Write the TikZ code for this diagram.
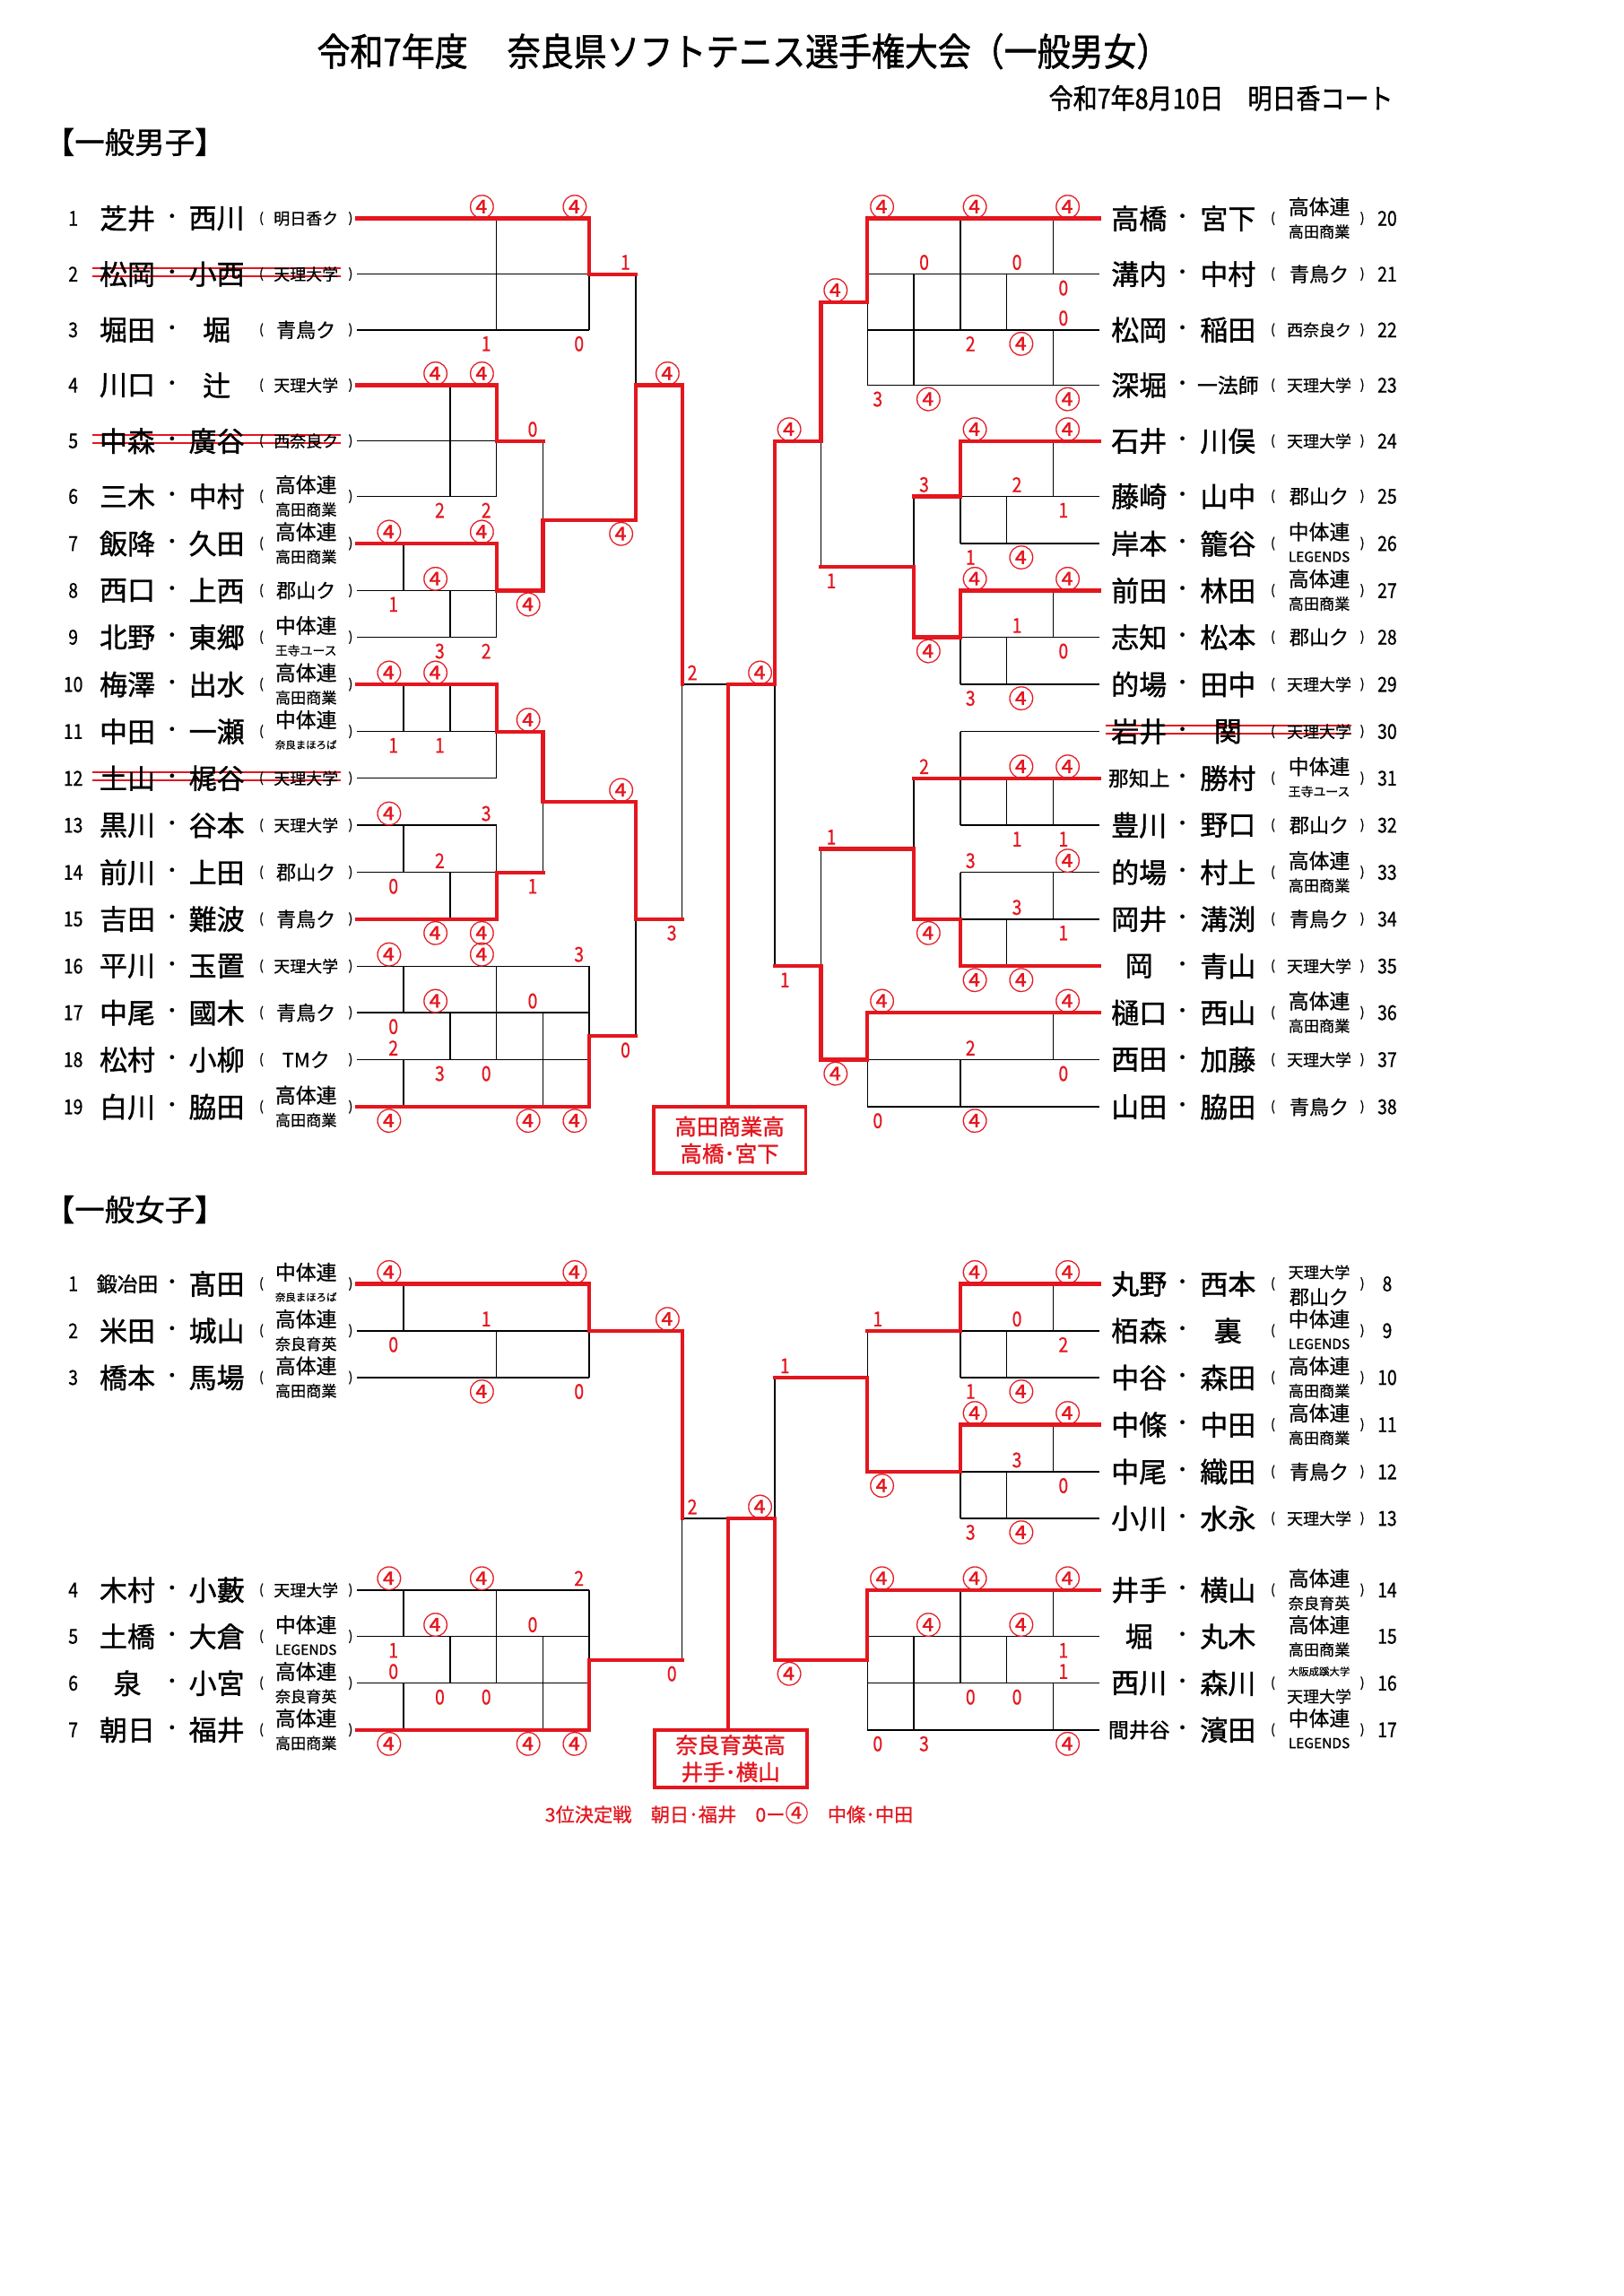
\documentclass[tikz,border=0pt]{standalone}
\usepackage{fontspec}
\setmainfont{Noto Sans CJK JP}[FakeBold=0.6]
\newfontfamily\nmfont{Noto Sans CJK JP}[FakeBold=1.2]
\newfontfamily\ttlfont{Noto Sans CJK JP}[FakeStretch=0.87,FakeBold=1.2]
\newfontfamily\digf{Noto Sans CJK JP}[FakeStretch=0.85,FakeBold=0.6]
\definecolor{rd}{RGB}{228,22,30}
\newcommand\fs[1]{\fontsize{#1}{#1}\selectfont}
\newcounter{nodeid}
\newcommand\T[4][]{\stepcounter{nodeid}\node[#1] (t\arabic{nodeid}) at (#2,#3) {#4};}
\newcommand\Q{\makebox[12.5pt]{\fs{17.5}\normalfont ④}}
\newcommand\SLa[3]{\T[sc,anchor=east]{#1-3.5}{#2-8}{#3}}
\newcommand\SLb[3]{\T[sc,anchor=east]{#1-3.5}{#2+9.5}{#3}}
\newcommand\SRa[3]{\T[sc,anchor=west]{#1+3.5}{#2-8}{#3}}
\newcommand\SRb[3]{\T[sc,anchor=west]{#1+3.5}{#2+9.5}{#3}}
\newcommand\aone[2]{\T[aff,font=\fs{#1}]{\cx}{\cy}{#2}}
\newcommand\atwo[4]{\T[aff,font=\fs{#1}]{\cx}{\cy-8}{#2}\T[aff,font=\fs{#3}]{\cx}{\cy+9}{#4}}
\newcommand\LN[5]{\T[numf]{50}{#1}{#2}\T[nmf]{87}{#1}{#3}\T[dotf]{117.5}{#1}{・}\T[nmf]{148}{#1}{#4}\T[parf]{178.5}{#1}{(}\T[parf]{239.5}{#1}{)}\def\cx{209}\def\cy{#1}#5}
\newcommand\RNx[5]{\T[nmf]{778}{#1}{#3}\T[dotf]{807.6}{#1}{・}\T[nmf]{838.7}{#1}{#4}\T[numf]{947.5}{#1}{#2}\def\cx{901}\def\cy{#1}#5}
\newcommand\RN[5]{\T[parf]{869.4}{#1}{(}\T[parf]{930.5}{#1}{)}\RNx{#1}{#2}{#3}{#4}{#5}}
% rows
\def\YA{149.2}\def\YB{187.2}\def\YC{225.3}\def\YD{263.1}\def\YE{301.2}\def\YF{339.0}\def\YG{371.2}\def\YH{403.3}\def\YI{435.2}\def\YJ{467.4}\def\YK{499.6}\def\YL{531.5}\def\YM{563.6}\def\YN{595.8}\def\YO{627.7}\def\YP{659.8}\def\YQ{691.6}\def\YR{723.7}\def\YS{755.9}
\def\Mbc{206.2}\def\Mfg{355.1}\def\Mgh{387.25}\def\Mlm{547.55}\def\Mmn{579.7}\def\Mqr{707.65}
\def\WA{876.8}\def\WB{908.8}\def\WC{940.8}\def\WD{973.0}\def\WE{1005.1}\def\WF{1037.0}\def\WG{1085.9}\def\WH{1117.6}\def\WI{1149.5}\def\WJ{1181.4}\def\Whi{1133.55}
% columns
\def\xs{244}\def\xa{275.7}\def\xb{307.4}\def\xc{339.1}\def\xd{370.8}\def\xe{402.5}\def\xf{434.2}\def\xg{465.9}\def\xm{497.5}
\def\us{751}\def\ua{719.3}\def\ub{687.6}\def\uc{655.9}\def\ud{624.2}\def\ue{592.5}\def\uf{560.8}\def\ug{529.1}
\tikzset{
 bl/.style={draw=black,line width=0.9pt},
 rdl/.style={draw=rd,line width=2.6pt,line cap=rect,line join=miter},
 strk/.style={draw=rd,line width=1.1pt},
 sc/.style={text=rd,inner sep=0pt,font=\digf\fs{14}},
 aff/.style={inner sep=0pt},
 numf/.style={inner sep=0pt,font=\digf\fs{14}},
 nmf/.style={inner sep=0pt,font=\nmfont\fs{19}},
 dotf/.style={inner sep=0pt,font=\fs{13}},
 parf/.style={inner sep=0pt,font=\fs{9}},
 boxs/.style={draw=rd,line width=2.4pt,text=rd,minimum width=104pt,align=center,inner sep=0pt,font=\nmfont\fontsize{15}{18.5}\selectfont},
}
\begin{document}
\begin{tikzpicture}[x=1pt,y=-1pt]
\fill[white] (0,0) rectangle (1109,1568);
\path[use as bounding box] (0,0) rectangle (1109,1568);
% headings
\T[font=\ttlfont\fs{26},anchor=west]{213}{35}{令和7年度}
\T[font=\ttlfont\fs{26},anchor=west]{343}{35}{奈良県ソフトテニス選手権大会（一般男女）}
\T[font=\ttlfont\fs{19},anchor=east]{955}{67}{令和7年8月10日　明日香コート}
\T[font=\nmfont\fs{20.5},anchor=west]{27}{97}{【一般男子】}
\T[font=\nmfont\fs{20.5},anchor=west]{27}{826}{【一般女子】}
% ================= MEN LEFT =================
\draw[bl] (\xs,\YB)--(\xe,\YB) (\xs,\YC)--(\xe,\YC) (\xc,\YA)--(\xc,\YC) (\xe,\YB)--(\xe,\YC) (\xf,\YB)--(\xf,\YD);
\draw[bl] (\xs,\YE)--(\xc,\YE) (\xs,\YF)--(\xc,\YF) (\xb,\YD)--(\xb,\YF) (\xc,\YE)--(\xc,\YF) (\xd,\YE)--(\xd,\Mfg);
\draw[bl] (\xs,\YH)--(\xc,\YH) (\xs,\YI)--(\xc,\YI) (\xa,\YG)--(\xa,\YH) (\xb,\YH)--(\xb,\YI) (\xc,\YH)--(\xc,\YI);
\draw[bl] (\xs,\YK)--(\xc,\YK) (\xs,\YL)--(\xc,\YL) (\xa,\YJ)--(\xa,\YK) (\xb,\YJ)--(\xb,\YK) (\xc,\YK)--(\xc,\YL) (\xd,\Mlm)--(\xd,\YN);
\draw[bl] (\xs,\YM)--(\xc,\YM) (\xs,\YN)--(\xc,\YN) (\xa,\YM)--(\xa,\YN) (\xb,\YN)--(\xb,\YO) (\xc,\YM)--(\xc,\YN);
\draw[bl] (\xs,\YP)--(\xe,\YP) (\xs,\YQ)--(\xe,\YQ) (\xs,\YR)--(\xe,\YR) (\xa,\YP)--(\xa,\YQ) (\xa,\YR)--(\xa,\YS) (\xb,\YQ)--(\xb,\YR) (\xc,\YP)--(\xc,\YR) (\xd,\YQ)--(\xd,\YS) (\xe,\YP)--(\xe,\Mqr);
\draw[bl] (\xf,\YO)--(\xf,\Mqr) (\xg,\YJ)--(\xg,\YO) (\xg,\YJ)--(\xm,\YJ);
\draw[rdl] (\xs,\YA)--(\xe,\YA)--(\xe,\YB)--(\xf,\YB);
\draw[rdl] (\xf,\Mfg)--(\xf,\YD)--(\xg,\YD)--(\xg,\YJ);
\draw[rdl] (\xs,\YD)--(\xc,\YD)--(\xc,\YE)--(\xd,\YE);
\draw[rdl] (\xd,\Mfg)--(\xf,\Mfg) (\xd,\Mfg)--(\xd,\YH);
\draw[rdl] (\xs,\YG)--(\xc,\YG)--(\xc,\YH)--(\xd,\YH);
\draw[rdl] (\xs,\YJ)--(\xc,\YJ)--(\xc,\YK)--(\xd,\YK)--(\xd,\Mlm)--(\xf,\Mlm)--(\xf,\YO)--(\xg,\YO);
\draw[rdl] (\xs,\YO)--(\xc,\YO)--(\xc,\YN)--(\xd,\YN);
\draw[rdl] (\xs,\YS)--(\xe,\YS)--(\xe,\Mqr)--(\xf,\Mqr);
% strikes
\foreach \yy in {\YB,\YE,\YL}{\draw[strk] (63,\yy-4)--(233,\yy-4) (63,\yy+1.5)--(233,\yy+1.5);}
% ================= MEN RIGHT =================
\draw[bl] (\us,\YB)--(\ue,\YB) (\us,\YC)--(\ue,\YC) (\us,\YD)--(\ue,\YD) (\ua,\YA)--(\ua,\YB) (\ua,\YC)--(\ua,\YD) (\uc,\YA)--(\uc,\YC) (\ud,\YB)--(\ud,\YD) (\ub,\YB)--(\ub,\YC) (\ue,\Mbc)--(\ue,\YD) (\uf,\YE)--(\uf,\Mgh);
\draw[bl] (\us,\YF)--(\uc,\YF) (\us,\YG)--(\uc,\YG) (\ua,\YE)--(\ua,\YF) (\ub,\YF)--(\ub,\YG) (\uc,\YF)--(\uc,\YG) (\ud,\YF)--(\ud,\Mgh);
\draw[bl] (\us,\YI)--(\uc,\YI) (\us,\YJ)--(\uc,\YJ) (\ua,\YH)--(\ua,\YI) (\ub,\YI)--(\ub,\YJ) (\uc,\YI)--(\uc,\YJ);
\draw[bl] (\us,\YK)--(\uc,\YK) (\us,\YM)--(\uc,\YM) (\uc,\YK)--(\uc,\YM) (\ub,\YL)--(\ub,\YM) (\ua,\YL)--(\ua,\YM) (\ud,\YL)--(\ud,\Mmn);
\draw[bl] (\us,\YN)--(\uc,\YN) (\us,\YO)--(\uc,\YO) (\uc,\YN)--(\uc,\YO) (\ua,\YN)--(\ua,\YO) (\ub,\YO)--(\ub,\YP) (\uf,\Mmn)--(\uf,\YP);
\draw[bl] (\us,\YR)--(\ue,\YR) (\us,\YS)--(\ue,\YS) (\ua,\YQ)--(\ua,\YR) (\uc,\YR)--(\uc,\YS) (\ue,\YR)--(\ue,\YS) (\ug,\YJ)--(\ug,\YP);
\draw[rdl] (\us,\YA)--(\ue,\YA)--(\ue,\Mbc)--(\uf,\Mbc)--(\uf,\YE)--(\ug,\YE)--(\ug,\YJ);
\draw[rdl] (\us,\YE)--(\uc,\YE)--(\uc,\YF)--(\ud,\YF);
\draw[rdl] (\uf,\Mgh)--(\ud,\Mgh)--(\ud,\YI)--(\uc,\YI)--(\uc,\YH)--(\us,\YH);
\draw[rdl] (\us,\YL)--(\ud,\YL);
\draw[rdl] (\uf,\Mmn)--(\ud,\Mmn)--(\ud,\YO)--(\uc,\YO)--(\uc,\YP)--(\us,\YP);
\draw[rdl] (\ug,\YP)--(\uf,\YP)--(\uf,\YR)--(\ue,\YR)--(\ue,\YQ)--(\us,\YQ);
\draw[strk] (755,\YK-4)--(923,\YK-4) (755,\YK+1.5)--(923,\YK+1.5);
% final men
\node[boxs,minimum height=45pt] (mbox) at (498.3,778.5) {高田商業高\\高橋･宮下};
\draw[rdl] (\xm,\YJ)--(\ug,\YJ);
\draw[rdl] (\xm,\YJ)--(\xm,\YS);
% ================= WOMEN LEFT =================
\draw[bl] (\xs,\WB)--(\xe,\WB) (\xs,\WC)--(\xe,\WC) (\xa,\WA)--(\xa,\WB) (\xc,\WB)--(\xc,\WC) (\xe,\WB)--(\xe,\WC);
\draw[bl] (\xs,\WG)--(\xe,\WG) (\xs,\WH)--(\xe,\WH) (\xs,\WI)--(\xe,\WI) (\xa,\WG)--(\xa,\WH) (\xa,\WI)--(\xa,\WJ) (\xb,\WH)--(\xb,\WI) (\xc,\WG)--(\xc,\WI) (\xd,\WH)--(\xd,\WJ) (\xe,\WG)--(\xe,\Whi);
\draw[bl] (\xg,\WF)--(\xg,\Whi) (\xg,\WF)--(\xm,\WF);
\draw[rdl] (\xs,\WA)--(\xe,\WA)--(\xe,\WB)--(\xg,\WB)--(\xg,\WF);
\draw[rdl] (\xs,\WJ)--(\xe,\WJ)--(\xe,\Whi)--(\xg,\Whi);
% ================= WOMEN RIGHT =================
\draw[bl] (\us,\WB)--(\uc,\WB) (\us,\WC)--(\uc,\WC) (\ua,\WA)--(\ua,\WB) (\ub,\WB)--(\ub,\WC) (\uc,\WB)--(\uc,\WC) (\ue,\WB)--(\ue,\WC);
\draw[bl] (\us,\WE)--(\uc,\WE) (\us,\WF)--(\uc,\WF) (\ua,\WD)--(\ua,\WE) (\ub,\WE)--(\ub,\WF) (\uc,\WE)--(\uc,\WF) (\ug,\WC)--(\ug,\WF);
\draw[bl] (\us,\WH)--(\ue,\WH) (\us,\WI)--(\ue,\WI) (\us,\WJ)--(\ue,\WJ) (\ua,\WG)--(\ua,\WH) (\ua,\WI)--(\ua,\WJ) (\ub,\WH)--(\ub,\WI) (\uc,\WG)--(\uc,\WI) (\ud,\WH)--(\ud,\WJ) (\ue,\Whi)--(\ue,\WJ);
\draw[rdl] (\us,\WA)--(\uc,\WA)--(\uc,\WB)--(\ue,\WB);
\draw[rdl] (\ug,\WC)--(\ue,\WC)--(\ue,\WE)--(\uc,\WE)--(\uc,\WD)--(\us,\WD);
\draw[rdl] (\ug,\WF)--(\ug,\Whi)--(\ue,\Whi)--(\ue,\WG)--(\us,\WG);
\node[boxs,minimum height=39pt] (wbox) at (499,1201) {奈良育英高\\井手･横山};
\draw[rdl] (\xm,\WF)--(\ug,\WF);
\draw[rdl] (\xm,\WF)--(\xm,\WJ);
\T[text=rd,font=\fs{13},inner sep=0pt]{498}{1238}{3位決定戦　朝日･福井　0ー{\fs{16}④}　中條･中田}
% ================= NAMES =================
\LN{\YA}{1}{芝井}{西川}{\aone{11}{明日香ク}}
\LN{\YB}{2}{松岡}{小西}{\aone{11}{天理大学}}
\LN{\YC}{3}{堀田}{堀}{\aone{13.5}{青鳥ク}}
\LN{\YD}{4}{川口}{辻}{\aone{11}{天理大学}}
\LN{\YE}{5}{中森}{廣谷}{\aone{11}{西奈良ク}}
\LN{\YF}{6}{三木}{中村}{\atwo{14}{高体連}{10.5}{高田商業}}
\LN{\YG}{7}{飯降}{久田}{\atwo{14}{高体連}{10.5}{高田商業}}
\LN{\YH}{8}{西口}{上西}{\aone{13.5}{郡山ク}}
\LN{\YI}{9}{北野}{東郷}{\atwo{14}{中体連}{8.5}{王寺ユース}}
\LN{\YJ}{10}{梅澤}{出水}{\atwo{14}{高体連}{10.5}{高田商業}}
\LN{\YK}{11}{中田}{一瀬}{\atwo{14}{中体連}{7}{奈良まほろば}}
\LN{\YL}{12}{土山}{梶谷}{\aone{11}{天理大学}}
\LN{\YM}{13}{黒川}{谷本}{\aone{11}{天理大学}}
\LN{\YN}{14}{前川}{上田}{\aone{13.5}{郡山ク}}
\LN{\YO}{15}{吉田}{難波}{\aone{13.5}{青鳥ク}}
\LN{\YP}{16}{平川}{玉置}{\aone{11}{天理大学}}
\LN{\YQ}{17}{中尾}{國木}{\aone{13.5}{青鳥ク}}
\LN{\YR}{18}{松村}{小柳}{\aone{13.5}{TMク}}
\LN{\YS}{19}{白川}{脇田}{\atwo{14}{高体連}{10.5}{高田商業}}
\RN{\YA}{20}{高橋}{宮下}{\atwo{14}{高体連}{10.5}{高田商業}}
\RN{\YB}{21}{溝内}{中村}{\aone{13.5}{青鳥ク}}
\RN{\YC}{22}{松岡}{稲田}{\aone{11}{西奈良ク}}
\RN{\YD}{23}{深堀}{\fs{14}一法師}{\aone{11}{天理大学}}
\RN{\YE}{24}{石井}{川俣}{\aone{11}{天理大学}}
\RN{\YF}{25}{藤崎}{山中}{\aone{13.5}{郡山ク}}
\RN{\YG}{26}{岸本}{籠谷}{\atwo{14}{中体連}{9.5}{LEGENDS}}
\RN{\YH}{27}{前田}{林田}{\atwo{14}{高体連}{10.5}{高田商業}}
\RN{\YI}{28}{志知}{松本}{\aone{13.5}{郡山ク}}
\RN{\YJ}{29}{的場}{田中}{\aone{11}{天理大学}}
\RN{\YK}{30}{岩井}{関}{\aone{11}{天理大学}}
\RN{\YL}{31}{\fs{14}那知上}{勝村}{\atwo{14}{中体連}{8.5}{王寺ユース}}
\RN{\YM}{32}{豊川}{野口}{\aone{13.5}{郡山ク}}
\RN{\YN}{33}{的場}{村上}{\atwo{14}{高体連}{10.5}{高田商業}}
\RN{\YO}{34}{岡井}{溝渕}{\aone{13.5}{青鳥ク}}
\RN{\YP}{35}{岡}{青山}{\aone{11}{天理大学}}
\RN{\YQ}{36}{樋口}{西山}{\atwo{14}{高体連}{10.5}{高田商業}}
\RN{\YR}{37}{西田}{加藤}{\aone{11}{天理大学}}
\RN{\YS}{38}{山田}{脇田}{\aone{13.5}{青鳥ク}}
\LN{\WA}{1}{\fs{14}鍛冶田}{髙田}{\atwo{14}{中体連}{7}{奈良まほろば}}
\LN{\WB}{2}{米田}{城山}{\atwo{14}{高体連}{10.5}{奈良育英}}
\LN{\WC}{3}{橋本}{馬場}{\atwo{14}{高体連}{10.5}{高田商業}}
\LN{\WG}{4}{木村}{小藪}{\aone{11}{天理大学}}
\LN{\WH}{5}{土橋}{大倉}{\atwo{14}{中体連}{9.5}{LEGENDS}}
\LN{\WI}{6}{泉}{小宮}{\atwo{14}{高体連}{10.5}{奈良育英}}
\LN{\WJ}{7}{朝日}{福井}{\atwo{14}{高体連}{10.5}{高田商業}}
\RN{\WA}{8}{丸野}{西本}{\atwo{10.5}{天理大学}{13.5}{郡山ク}}
\RN{\WB}{9}{栢森}{裏}{\atwo{14}{中体連}{9.5}{LEGENDS}}
\RN{\WC}{10}{中谷}{森田}{\atwo{14}{高体連}{10.5}{高田商業}}
\RN{\WD}{11}{中條}{中田}{\atwo{14}{高体連}{10.5}{高田商業}}
\RN{\WE}{12}{中尾}{織田}{\aone{13.5}{青鳥ク}}
\RN{\WF}{13}{小川}{水永}{\aone{11}{天理大学}}
\RN{\WG}{14}{井手}{横山}{\atwo{14}{高体連}{10.5}{奈良育英}}
\RNx{\WH}{15}{堀}{丸木}{\atwo{14}{高体連}{10.5}{高田商業}}
\RN{\WI}{16}{西川}{森川}{\atwo{7}{大阪成蹊大学}{11}{天理大学}}
\RN{\WJ}{17}{\fs{14}間井谷}{濱田}{\atwo{14}{中体連}{9.5}{LEGENDS}}
% ================= SCORES =================
\SLa{\xc}{\YA}{\Q}\SLa{\xe}{\YA}{\Q}\SLb{\xc}{\YC}{1}\SLb{\xe}{\YC}{0}\SLa{\xf}{\YB}{1}
\SLa{\xb}{\YD}{\Q}\SLa{\xc}{\YD}{\Q}\SLb{\xb}{\YF}{2}\SLb{\xc}{\YF}{2}\SLa{\xd}{\YE}{0}
\SLa{\xg}{\YD}{\Q}\SLb{\xf}{\Mfg}{\Q}
\SLa{\xa}{\YG}{\Q}\SLa{\xc}{\YG}{\Q}\SLb{\xa}{\YH}{1}\SLa{\xb}{\YH}{\Q}\SLb{\xb}{\YI}{3}\SLb{\xc}{\YI}{2}\SLb{\xd}{\YH}{\Q}
\SLa{\xa}{\YJ}{\Q}\SLa{\xb}{\YJ}{\Q}\SLb{\xa}{\YK}{1}\SLb{\xb}{\YK}{1}\SLa{\xd}{\YK}{\Q}\SLa{\xf}{\Mlm}{\Q}
\SLa{\xa}{\YM}{\Q}\SLa{\xc}{\YM}{3}\SLa{\xb}{\YN}{2}\SLb{\xa}{\YN}{0}\SLb{\xb}{\YO}{\Q}\SLb{\xc}{\YO}{\Q}\SLb{\xd}{\YN}{1}
\SLa{\xa}{\YP}{\Q}\SLa{\xc}{\YP}{\Q}\SLa{\xe}{\YP}{3}\SLa{\xb}{\YQ}{\Q}\SLa{\xd}{\YQ}{0}\SLb{\xa}{\YQ}{0}\SLa{\xa}{\YR}{2}\SLb{\xb}{\YR}{3}\SLb{\xc}{\YR}{0}\SLb{\xa}{\YS}{\Q}\SLb{\xd}{\YS}{\Q}\SLb{\xe}{\YS}{\Q}\SLb{\xf}{\Mqr}{0}
\SLb{\xg}{\YO}{3}
\SRa{\xg}{\YJ}{2}\SLa{\ug}{\YJ}{\Q}
\SRa{\ue}{\YA}{\Q}\SRa{\uc}{\YA}{\Q}\SRa{\ua}{\YA}{\Q}\SRa{\ud}{\YB}{0}\SRa{\ub}{\YB}{0}\SRb{\ua}{\YB}{0}\SRa{\ua}{\YC}{0}\SRb{\uc}{\YC}{2}\SRb{\ub}{\YC}{\Q}\SRb{\ue}{\YD}{3}\SRb{\ud}{\YD}{\Q}\SRb{\ua}{\YD}{\Q}
\SRa{\uf}{\Mbc}{\Q}\SRa{\ug}{\YE}{\Q}\SRb{\uf}{\Mgh}{1}
\SRa{\uc}{\YE}{\Q}\SRa{\ua}{\YE}{\Q}\SRa{\ud}{\YF}{3}\SRa{\ub}{\YF}{2}\SRb{\ua}{\YF}{1}\SRb{\uc}{\YG}{1}\SRb{\ub}{\YG}{\Q}\SRb{\ud}{\YI}{\Q}
\SRa{\uc}{\YH}{\Q}\SRa{\ua}{\YH}{\Q}\SRa{\ub}{\YI}{1}\SRb{\ua}{\YI}{0}\SRb{\uc}{\YJ}{3}\SRb{\ub}{\YJ}{\Q}
\SRa{\ud}{\YL}{2}\SRa{\ub}{\YL}{\Q}\SRa{\ua}{\YL}{\Q}\SRb{\ub}{\YM}{1}\SRb{\ua}{\YM}{1}\SRa{\uf}{\Mmn}{1}\SRb{\ud}{\YO}{\Q}
\SRa{\uc}{\YN}{3}\SRa{\ua}{\YN}{\Q}\SRa{\ub}{\YO}{3}\SRb{\ua}{\YO}{1}\SRb{\uc}{\YP}{\Q}\SRb{\ub}{\YP}{\Q}\SRb{\ug}{\YP}{1}\SRb{\uf}{\YR}{\Q}
\SRa{\ue}{\YQ}{\Q}\SRa{\ua}{\YQ}{\Q}\SRa{\uc}{\YR}{2}\SRb{\ua}{\YR}{0}\SRb{\ue}{\YS}{0}\SRb{\uc}{\YS}{\Q}
\SLa{\xa}{\WA}{\Q}\SLa{\xe}{\WA}{\Q}\SLa{\xc}{\WB}{1}\SLb{\xa}{\WB}{0}\SLb{\xc}{\WC}{\Q}\SLb{\xe}{\WC}{0}\SLa{\xg}{\WB}{\Q}
\SLa{\xa}{\WG}{\Q}\SLa{\xc}{\WG}{\Q}\SLa{\xe}{\WG}{2}\SLa{\xb}{\WH}{\Q}\SLa{\xd}{\WH}{0}\SLb{\xa}{\WH}{1}\SLa{\xa}{\WI}{0}\SLb{\xb}{\WI}{0}\SLb{\xc}{\WI}{0}\SLb{\xa}{\WJ}{\Q}\SLb{\xd}{\WJ}{\Q}\SLb{\xe}{\WJ}{\Q}\SLb{\xg}{\Whi}{0}
\SRa{\xg}{\WF}{2}\SLa{\ug}{\WF}{\Q}
\SRa{\uc}{\WA}{\Q}\SRa{\ua}{\WA}{\Q}\SRa{\ub}{\WB}{0}\SRb{\ua}{\WB}{2}\SRb{\uc}{\WC}{1}\SRb{\ub}{\WC}{\Q}\SRa{\ue}{\WB}{1}\SRa{\ug}{\WC}{1}
\SRa{\uc}{\WD}{\Q}\SRa{\ua}{\WD}{\Q}\SRa{\ub}{\WE}{3}\SRb{\ua}{\WE}{0}\SRb{\uc}{\WF}{3}\SRb{\ub}{\WF}{\Q}\SRb{\ue}{\WE}{\Q}\SRb{\ug}{\Whi}{\Q}
\SRa{\ue}{\WG}{\Q}\SRa{\uc}{\WG}{\Q}\SRa{\ua}{\WG}{\Q}\SRa{\ud}{\WH}{\Q}\SRa{\ub}{\WH}{\Q}\SRb{\ua}{\WH}{1}\SRa{\ua}{\WI}{1}\SRb{\uc}{\WI}{0}\SRb{\ub}{\WI}{0}\SRb{\ue}{\WJ}{0}\SRb{\ud}{\WJ}{3}\SRb{\ua}{\WJ}{\Q}
\end{tikzpicture}
\end{document}
